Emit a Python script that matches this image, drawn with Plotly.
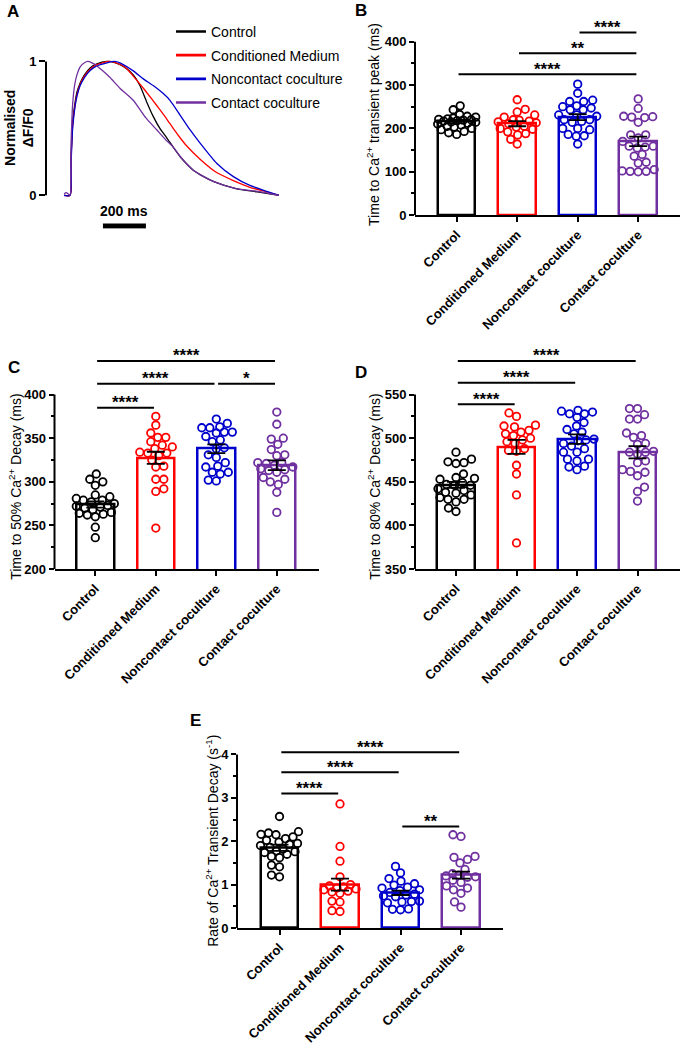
import plotly.graph_objects as go

W, H = 682, 1050
FONT = "Arial, Liberation Sans, sans-serif"

groups = ["Control", "Conditioned Medium", "Noncontact coculture", "Contact coculture"]
colors = ["#000000", "#ff0000", "#0000cc", "#7030a0"]

# A: averaged normalised Ca2+ transients (time in ms, normalised dF/F0)
a_t_control = [0, 28, 33, 40, 50, 60, 75, 95, 120, 150, 200, 240, 280, 322, 353, 384, 415, 446, 478,
               508, 540, 600, 650, 700, 800, 900, 1000]
a_v_control = [0, 0, 0.3, 0.55, 0.68, 0.77, 0.84, 0.9, 0.95, 0.98, 1.0, 0.99, 0.96, 0.9, 0.82, 0.7, 0.59,
               0.5, 0.43, 0.36, 0.29, 0.19, 0.14, 0.1, 0.05, 0.025, 0]
a_t_cm = [0, 28, 33, 40, 50, 60, 75, 95, 120, 150, 210, 250, 290, 322, 369, 408, 446, 478, 508, 540, 570,
          633, 710, 788, 865, 943, 1000]
a_v_cm = [0, 0, 0.28, 0.52, 0.66, 0.75, 0.83, 0.89, 0.94, 0.975, 1.0, 0.985, 0.95, 0.89, 0.8, 0.72, 0.64,
          0.57, 0.5, 0.43, 0.37, 0.27, 0.17, 0.11, 0.06, 0.025, 0]
a_t_nc = [0, 28, 33, 40, 50, 60, 75, 95, 120, 150, 200, 235, 260, 322, 369, 415, 462, 493, 540, 586, 633,
          710, 788, 865, 943, 1000]
a_v_nc = [0, 0, 0.25, 0.5, 0.65, 0.74, 0.82, 0.88, 0.93, 0.965, 0.99, 1.0, 0.99, 0.93, 0.87, 0.82, 0.76,
          0.71, 0.6, 0.49, 0.39, 0.24, 0.14, 0.074, 0.03, 0]
a_t_cc = [0, 10, 20, 28, 33, 40, 50, 60, 75, 95, 110, 130, 150, 180, 214, 260, 322, 380, 431, 470, 508,
          540, 600, 650, 700, 800, 900, 1000]
a_v_cc = [0.01, 0.02, 0.01, 0, 0.4, 0.68, 0.83, 0.9, 0.96, 0.99, 1.0, 0.99, 0.97, 0.93, 0.88, 0.8, 0.71,
          0.58, 0.49, 0.42, 0.36, 0.29, 0.19, 0.14, 0.1, 0.05, 0.03, 0]

# B: time to Ca2+ transient peak (ms)
b_control = [252, 243, 232, 228, 226, 224, 222, 221, 220, 219, 218, 217, 215, 214, 212, 210, 208, 205,
             203, 200, 197, 193, 190, 186]
b_cm = [266, 244, 238, 231, 226, 220, 219, 217, 215, 213, 211, 205, 203, 200, 198, 192, 188, 185, 175, 164]
b_nc = [302, 281, 265, 262, 262, 252, 250, 247, 243, 243, 231, 231, 228, 220, 220, 216, 214, 200, 200,
        197, 186, 183, 182, 164]
b_cc = [268, 246, 228, 227, 226, 225, 214, 185, 185, 178, 170, 159, 159, 157, 155, 140, 136, 122, 120,
        105, 102, 101, 100, 101]
b_mean = [216, 211, 226, 170]
b_sem = [4, 6, 7, 11]
b_sig = [(0, 3, 325, "****"), (1, 3, 373, "**"), (2, 3, 421, "****")]

# C: time to 50% decay (ms)
c_control = [309, 303, 300, 296, 285, 283, 281, 279, 279, 277, 275, 273, 272, 271, 270, 268, 265, 264,
             263, 262, 260, 248, 236]
c_cm = [375, 365, 356, 351, 351, 346, 342, 340, 338, 334, 333, 333, 330, 325, 317, 318, 303, 303, 292,
        289, 247]
c_nc = [372, 367, 362, 363, 362, 357, 357, 356, 352, 348, 346, 339, 338, 331, 328, 322, 318, 317, 311,
        311, 309, 302, 301]
c_cc = [380, 366, 350, 349, 343, 337, 331, 330, 322, 322, 321, 319, 317, 315, 314, 313, 311, 305, 303,
        300, 297, 288, 265]
c_mean = [274, 327.5, 338, 319]
c_sem = [3.5, 7, 5, 5.5]
c_sig = [(0, 3, 438.6, "****"), (0, 2, 412.5, "****"), (2, 3, 412.5, "*"), (0, 1, 385, "****")]

# D: time to 80% decay (ms)
d_control = [484, 476, 473, 472, 471, 459, 455, 454, 453, 449, 447, 446, 446, 442, 440, 438, 437, 435,
             432, 430, 430, 427, 420, 416]
d_cm = [529, 525, 515, 514, 513, 509, 507, 505, 503, 500, 498, 496, 494, 488, 486, 485, 469, 459, 435, 380]
d_nc = [532, 531, 530, 528, 528, 524, 518, 514, 510, 507, 505, 499, 498, 497, 494, 491, 488, 484, 484,
        476, 476, 474, 468, 467, 464]
d_cc = [534, 534, 527, 522, 522, 506, 503, 501, 494, 493, 485, 484, 484, 482, 474, 472, 464, 462, 461,
        457, 444, 439, 428]
d_mean = [446.5, 490, 499, 484]
d_sem = [3.5, 8, 5.5, 7]
d_sig = [(0, 3, 588.6, "****"), (0, 2, 563.6, "****"), (0, 1, 539, "****")]

# E: rate of Ca2+ transient decay (1/s)
e_control = [2.57, 2.22, 2.19, 2.16, 2.15, 2.10, 2.06, 2.02, 1.98, 1.95, 1.93, 1.90, 1.86, 1.82, 1.78,
             1.76, 1.74, 1.70, 1.65, 1.62, 1.45, 1.41, 1.22, 1.18]
e_cm = [2.86, 1.88, 1.54, 1.18, 1.00, 0.97, 0.95, 0.92, 0.90, 0.88, 0.85, 0.83, 0.80, 0.62, 0.60, 0.40, 0.38]
e_nc = [1.42, 1.27, 1.14, 1.08, 1.02, 0.99, 0.94, 0.92, 0.88, 0.86, 0.82, 0.78, 0.76, 0.74, 0.72, 0.62,
        0.61, 0.60, 0.58, 0.44, 0.43, 0.42]
e_cc = [2.15, 2.11, 1.65, 1.63, 1.58, 1.50, 1.35, 1.25, 1.22, 1.20, 1.18, 1.17, 1.10, 1.05, 0.97, 0.92,
        0.88, 0.80, 0.60, 0.48]
e_mean = [1.85, 1.0, 0.81, 1.22]
e_sem = [0.07, 0.14, 0.05, 0.08]
e_sig = [(0, 3, 4.05, "****"), (0, 2, 3.59, "****"), (0, 1, 3.1, "****"), (2, 3, 2.34, "**")]


def fx(p):
    return p / W


def fy(p):
    return 1 - p / H


CAT_PX = 60.5  # pixels between category centres


def swarm(vals, y_ppu, d=8.0, maxw=19.0, step=0.5):
    # beeswarm within +-maxw px: nearest free slot, otherwise the least crowded one
    order = sorted(range(len(vals)), key=lambda i: vals[i])
    n_steps = int(maxw / step)
    placed = []
    offs = [0.0] * len(vals)
    for n, i in enumerate(order):
        y = vals[i] * y_ppu
        sign = 1 if n % 2 == 0 else -1
        cands = [0.0]
        for k in range(1, n_steps + 1):
            cands += [sign * k * step, -sign * k * step]
        best, best_d = None, -1
        for s in cands:
            md = min([((s - px) ** 2 + (y - py) ** 2) ** 0.5 for px, py in placed] or [99])
            if md >= d:
                best = s
                break
            if md > best_d:
                best, best_d = s, md
        placed.append((best, y))
        offs[i] = best / CAT_PX
    return offs


fig = go.Figure()
layout = dict(
    width=W, height=H, margin=dict(l=0, r=0, t=0, b=0),
    paper_bgcolor="white", plot_bgcolor="white",
    font=dict(family=FONT, color="black", size=13),
    showlegend=True,
)
shapes = []
annotations = []


def add_text(text, x, y, size, angle=0):
    annotations.append(dict(text=text, x=fx(x), y=fy(y), xref="paper", yref="paper", xanchor="center",
                            yanchor="middle", textangle=angle, showarrow=False, font=dict(size=size)))


# ---------------- panel A ----------------
a_series = [(a_t_control, a_v_control), (a_t_cm, a_v_cm), (a_t_nc, a_v_nc), (a_t_cc, a_v_cc)]
for g, (t, v) in enumerate(a_series):
    fig.add_trace(go.Scatter(x=t, y=v, mode="lines",
                             line=dict(color=colors[g], width=1.3, shape="spline", smoothing=0.6),
                             showlegend=False, xaxis="x", yaxis="y", hoverinfo="skip"))
for g in range(4):
    fig.add_trace(go.Scatter(x=[None], y=[None], mode="lines", name=groups[g], legendgroup=groups[g],
                             line=dict(color=colors[g], width=2.6), xaxis="x", yaxis="y"))

a_y0, a_ppu = 196, 135
a_range = (-0.25, 1.05)
layout["xaxis"] = dict(domain=[fx(46), fx(280)], range=[-84, 1005], visible=False)
layout["yaxis"] = dict(domain=[fy(a_y0 - a_range[0] * a_ppu), fy(a_y0 - a_range[1] * a_ppu)],
                       range=list(a_range), showline=False, showgrid=False, zeroline=False,
                       tickvals=[0, 1], ticktext=["0", "1"], ticks="outside", ticklen=6, tickwidth=2,
                       tickcolor="black", tickfont=dict(size=13, weight="bold"))
shapes.append(dict(type="line", xref="x domain", yref="y", x0=0, x1=0, y0=0, y1=1,
                   line=dict(color="black", width=2)))
shapes.append(dict(type="line", xref="x", yref="y", x0=181, x1=381, y0=-0.23, y1=-0.23,
                   line=dict(color="black", width=5)))
annotations.append(dict(text="<b>200 ms</b>", x=281, y=-0.118, xref="x", yref="y", showarrow=False,
                        font=dict(size=14)))
add_text("<b>Normalised<br>ΔF/F0</b>", 19, 128, 14, -90)
layout["legend"] = dict(x=fx(171), y=fy(15), xanchor="left", yanchor="top", font=dict(size=14),
                        tracegroupgap=2.5, bgcolor="rgba(0,0,0,0)", itemclick=False)

# ---------------- bar panels ----------------
panels = [
    dict(letter="B", ax=2, vals=[b_control, b_cm, b_nc, b_cc], mean=b_mean, sem=b_sem, sig=b_sig,
         xpx=(415, 680), c0=456.7, y0=216, ppu=0.4375, yr=(0, 440), ytop=400, major=100, minor=50,
         title="Time to Ca<sup>2+</sup> transient peak (ms)", tpos=(373, 125), lpos=(361, 10)),
    dict(letter="C", ax=3, vals=[c_control, c_cm, c_nc, c_cc], mean=c_mean, sem=c_sem, sig=c_sig,
         xpx=(54.5, 319), c0=95.3, y0=573, ppu=0.88, yr=(200, 445), ytop=400, major=50, minor=25,
         title="Time to 50% Ca<sup>2+</sup> Decay (ms)", tpos=(15, 490), lpos=(14, 370)),
    dict(letter="D", ax=4, vals=[d_control, d_cm, d_nc, d_cc], mean=d_mean, sem=d_sem, sig=d_sig,
         xpx=(415, 680), c0=456, y0=573, ppu=0.88, yr=(350, 595), ytop=550, major=50, minor=25,
         title="Time to 80% Ca<sup>2+</sup> Decay (ms)", tpos=(374, 490), lpos=(361, 375)),
    dict(letter="E", ax=5, vals=[e_control, e_cm, e_nc, e_cc], mean=e_mean, sem=e_sem, sig=e_sig,
         xpx=(237, 503), c0=279.5, y0=935, ppu=43.75, yr=(0, 4.25), ytop=4, major=1, minor=0.5,
         title="Rate of Ca<sup>2+</sup> Transient Decay (s<sup>-1</sup>)", tpos=(212, 847), lpos=(195, 726)),
]

for p in panels:
    xa, ya = f"x{p['ax']}", f"y{p['ax']}"
    cats = [0, 1, 2, 3]
    fig.add_trace(go.Bar(x=cats, y=p["mean"], width=0.62, xaxis=xa, yaxis=ya, showlegend=False,
                         marker=dict(color="white", line=dict(color=colors, width=2.5)), hoverinfo="skip"))
    for g in range(4):
        offs = swarm(p["vals"][g], p["ppu"])
        fig.add_trace(go.Scatter(x=[g + o for o in offs], y=p["vals"][g], mode="markers", xaxis=xa, yaxis=ya,
                                 showlegend=False, cliponaxis=False,
                                 marker=dict(symbol="circle-open", size=7.5, color=colors[g],
                                             line=dict(width=1.8))))
    fig.add_trace(go.Scatter(x=cats, y=p["mean"], mode="markers", xaxis=xa, yaxis=ya, showlegend=False,
                             marker=dict(size=1, color="rgba(0,0,0,0)"),
                             error_y=dict(type="data", array=p["sem"], color="black", thickness=1.8, width=9)))

    top_px = p["y0"] - (p["yr"][1] - p["yr"][0]) * p["ppu"]
    nmaj = int(round((p["ytop"] - p["yr"][0]) / p["major"]))
    major = [p["yr"][0] + i * p["major"] for i in range(nmaj + 1)]
    minor = [m + p["minor"] for m in major[:-1]]
    layout[f"xaxis{p['ax']}"] = dict(
        domain=[fx(p["xpx"][0]), fx(p["xpx"][1])], anchor=ya,
        range=[(p["xpx"][0] - p["c0"]) / CAT_PX, (p["xpx"][1] - p["c0"]) / CAT_PX],
        tickvals=cats, ticktext=groups, tickangle=-45, ticks="outside", ticklen=5, tickwidth=2,
        tickcolor="black", showline=True, linewidth=2, linecolor="black", showgrid=False, zeroline=False,
        tickfont=dict(size=13, weight="bold"))
    layout[f"yaxis{p['ax']}"] = dict(
        domain=[fy(p["y0"]), fy(top_px)], anchor=xa, range=list(p["yr"]),
        tickvals=major, ticks="outside", ticklen=5, tickwidth=2, tickcolor="black",
        minor=dict(tickvals=minor, ticks="outside", ticklen=3, tickwidth=2, tickcolor="black"),
        showline=False, showgrid=False, zeroline=False, tickfont=dict(size=13, weight="bold"))
    shapes.append(dict(type="line", xref=f"{xa} domain", yref=ya, x0=0, x1=0, y0=p["yr"][0], y1=p["ytop"],
                       line=dict(color="black", width=2)))
    for (g1, g2, yv, lab) in p["sig"]:
        shapes.append(dict(type="line", xref=xa, yref=ya, x0=g1 + 0.03, x1=g2 - 0.03, y0=yv, y1=yv,
                           line=dict(color="black", width=2)))
        annotations.append(dict(text=lab, x=(g1 + g2) / 2, y=yv, xref=xa, yref=ya, showarrow=False,
                                xanchor="center", yanchor="middle", yshift=5,
                                font=dict(size=17, weight="bold")))
    add_text(p["title"], p["tpos"][0], p["tpos"][1], 14, -90)

add_text("<b>A</b>", 13, 11, 17)
for p in panels:
    add_text(f"<b>{p['letter']}</b>", p["lpos"][0], p["lpos"][1], 17)

layout["shapes"] = shapes
layout["annotations"] = annotations
layout["bargap"] = 0
fig.update_layout(**layout)

fig.write_html("out.html", config={"displayModeBar": False},
               post_script="document.body.style.margin='0';")
